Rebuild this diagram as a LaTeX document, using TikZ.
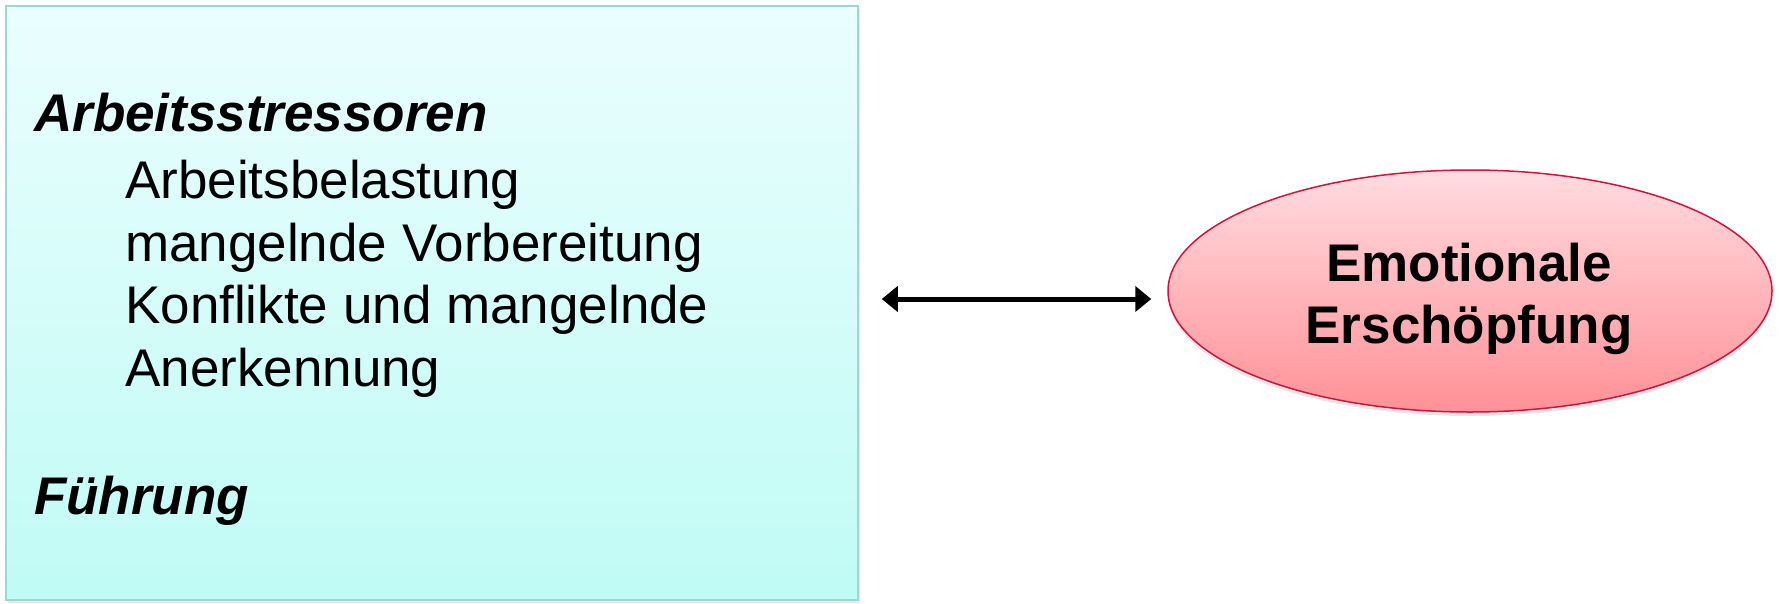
\documentclass[tikz,border=0pt]{standalone}
\usepackage{fontspec}
\setmainfont{Liberation Sans}
\usetikzlibrary{arrows.meta,shapes.geometric,shadows}
\definecolor{boxtop}{HTML}{EAFEFE}
\definecolor{boxbot}{HTML}{C0FBF5}
\definecolor{boxline}{HTML}{9ED6D2}
\definecolor{elltop}{HTML}{FFDCE0}
\definecolor{ellbot}{HTML}{FF9197}
\definecolor{ellline}{HTML}{D4123E}
\tikzset{
  panel/.style={draw=boxline, line width=1.5pt, top color=boxtop, bottom color=boxbot,
    minimum width=852pt, minimum height=594pt, inner sep=0pt,
    drop shadow={opacity=0.18, shadow xshift=2pt, shadow yshift=-3pt}},
  oval/.style={ellipse, draw=ellline, line width=1.5pt, top color=elltop, bottom color=ellbot,
    minimum width=604pt, minimum height=242pt, inner sep=0pt,
    drop shadow={opacity=0.2, shadow xshift=0pt, shadow yshift=-4pt}},
  big/.style={font=\fontsize{53}{62.5}\selectfont, inner sep=0pt},
  bigit/.style={font=\fontsize{53}{62.5}\selectfont\bfseries\itshape, inner sep=0pt},
  arr/.style={{Triangle[length=16pt,width=25pt]}-{Triangle[length=16pt,width=25pt]},
    line width=5pt, black}
}
\begin{document}
\begin{tikzpicture}[x=1pt,y=-1pt]
  \useasboundingbox (0,0) rectangle (1781,603);
  % left panel with the stressors
  \node[panel] (box) at (432,303) {};
  \node[bigit, anchor=base west] (head) at (34,131) {Arbeitsstressoren};
  % base anchor of a multi-line node sits on its last line
  \node[big, anchor=base west, align=left] (list) at (125,386)
    {Arbeitsbelastung\\mangelnde Vorbereitung\\Konflikte und mangelnde\\Anerkennung};
  \node[bigit, anchor=base west] (lead) at (34,514) {Führung};
  % outcome
  \node[oval] (ell) at (1470,291) {};
  \node[anchor=base, align=center, inner sep=0pt, font=\fontsize{53}{62}\selectfont\bfseries] (outc) at (1469,343)
    {Emotionale\\Erschöpfung};
  % two-way relation
  \draw[arr] ([shift={(23,-4)}]box.east) -- ([shift={(-16,8)}]ell.west);
\end{tikzpicture}
\end{document}
